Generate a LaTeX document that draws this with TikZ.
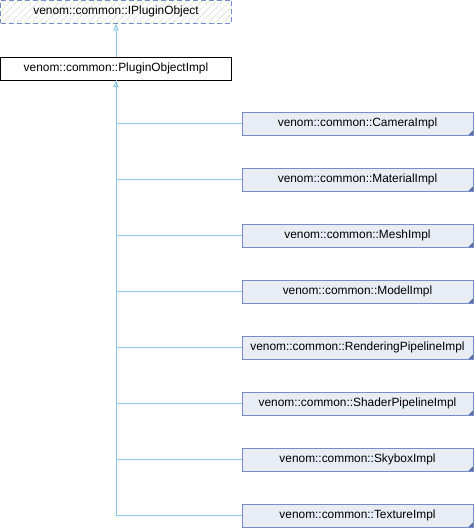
\documentclass[tikz,border=0pt]{standalone}
\usepackage{fontspec}
\setmainfont{Liberation Sans}
\usetikzlibrary{patterns.meta,arrows.meta}
\definecolor{edgeblue}{RGB}{140,200,235}
\definecolor{boxfill}{RGB}{232,236,244}
\definecolor{boxline}{RGB}{120,140,200}
\definecolor{cornerblue}{RGB}{90,110,170}
\tikzset{
  x=1pt,y=-1pt,
  every node/.style={font=\fontsize{11.9}{14}\selectfont},
  childbox/.style={draw=boxline,fill=boxfill,minimum width=231pt,minimum height=23pt,inner sep=0pt,anchor=center},
  edge/.style={draw=edgeblue,line width=1pt},
  inh/.style={edge,-{Latex[open,length=7pt,width=6pt]}}
}
\begin{document}
\begin{tikzpicture}
\useasboundingbox (0,0) rectangle (474,528);
% top base class
\node[draw=boxline,dashed,dash pattern=on 5pt off 3pt,minimum width=231pt,minimum height=23pt,inner sep=0pt,
  pattern={Lines[angle=45,distance=5pt,line width=0.6pt]},pattern color=gray!25] (base) at (116,11.5) {};
\node at (base.center) {venom::common::IPluginObject};
% middle class
\node[draw=black,fill=white,minimum width=231pt,minimum height=23pt,inner sep=0pt] (impl) at (116,68.5) {venom::common::PluginObjectImpl};
\draw[inh] (impl.north) -- (base.south);
% children
\foreach \n/\t/\y in {cam/CameraImpl/123.5, mat/MaterialImpl/179.5, mesh/MeshImpl/235.5, model/ModelImpl/291.5, rend/RenderingPipelineImpl/347.5, shad/ShaderPipelineImpl/403.5, sky/SkyboxImpl/459.5, tex/TextureImpl/515.5}{
  \node[childbox] (\n) at (357.5,\y) {venom::common::\t};
  \fill[cornerblue] (\n.south east) -- ++(-5,0) -- ++(5,-5) -- cycle;
}
\coordinate (trunk) at (116,515.5);
\draw[edge] (tex.west) -- (trunk) -- (impl.south);
\draw[inh] (116,100) -- (impl.south);
\foreach \n in {cam,mat,mesh,model,rend,shad,sky}{
  \draw[edge] (\n.west) -- (\n.west -| trunk);
}
\end{tikzpicture}
\end{document}
